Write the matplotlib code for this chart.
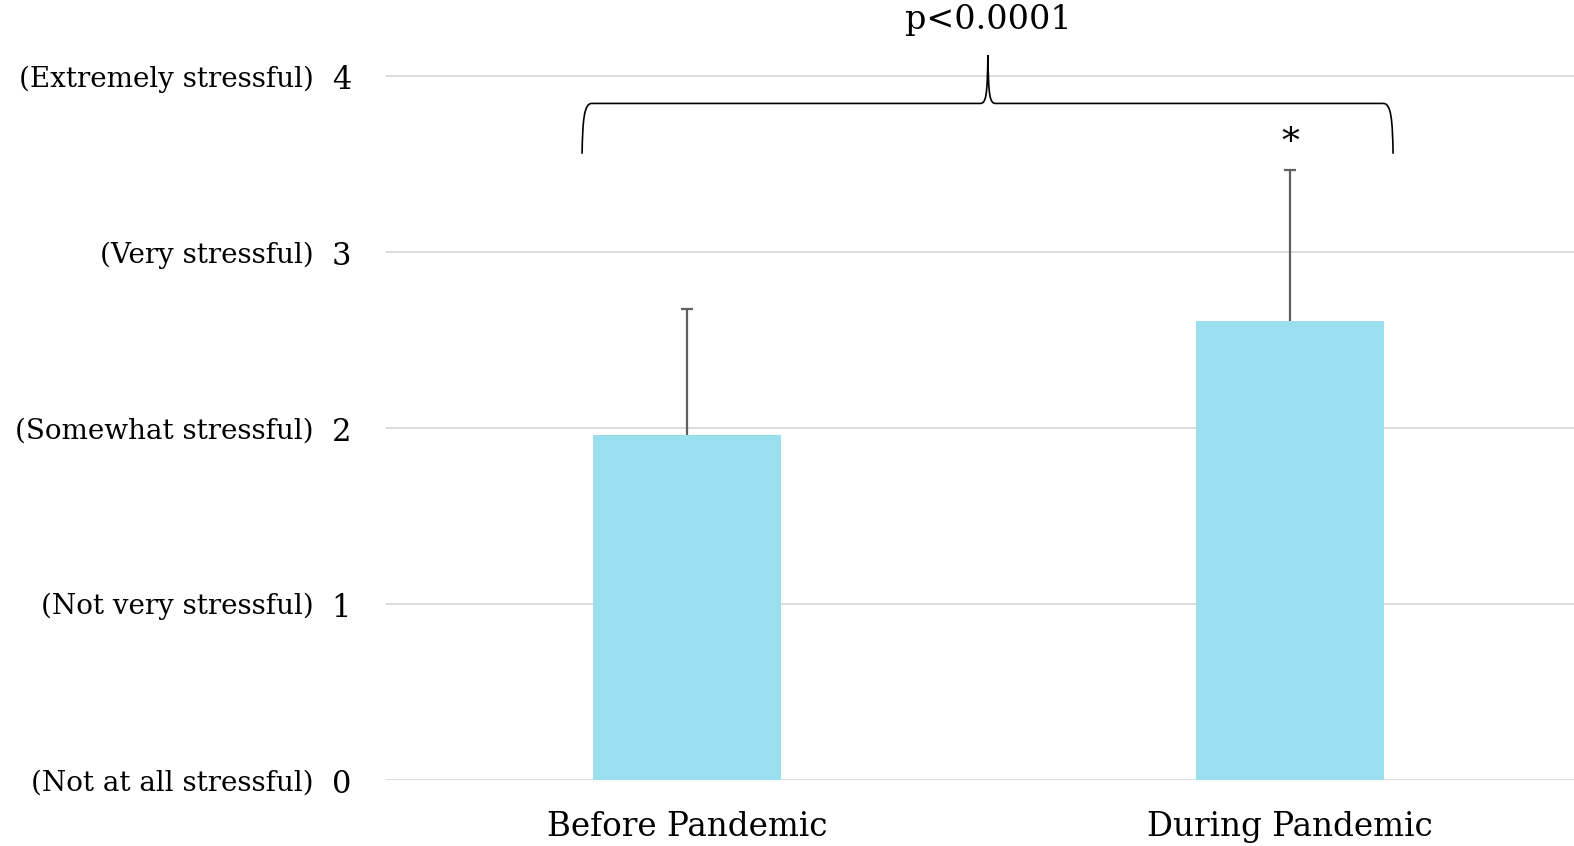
import matplotlib
matplotlib.use("Agg")
import matplotlib.pyplot as plt
from matplotlib.path import Path
from matplotlib.patches import PathPatch

# Data
categories = ["Before Pandemic", "During Pandemic"]
means = [1.96, 2.61]
sd_upper = [0.72, 0.86]
levels = [0, 1, 2, 3, 4]
level_names = ["(Not at all stressful)", "(Not very stressful)", "(Somewhat stressful)",
               "(Very stressful)", "(Extremely stressful)"]
p_label = "p<0.0001"
star_label = "*"

serif = ["DejaVu Serif"]

W, H = 1574, 846
fig = plt.figure(figsize=(W / 100, H / 100), dpi=100)
ax = fig.add_axes([385.5 / W, 66 / H, (W - 385.5) / W, 780 / H])
ax.set_xlim(-0.5, 1.471)
ax.set_ylim(0, 4.434)

x = list(range(len(categories)))
ax.bar(x, means, width=0.313, color="#99dfee", zorder=2)

# Upper-only error bars with a cap at the top
tops = [m + e for m, e in zip(means, sd_upper)]
ax.vlines(x, means, tops, colors="#5f5f5f", lw=1.6, zorder=3)
ax.plot(x, tops, linestyle="none", marker="_", markersize=9, mew=1.6,
        color="#5f5f5f", zorder=3)

# Horizontal gridlines
for lv in levels:
    ax.axhline(lv, color="#d9d9d9", lw=1.3, zorder=1)

for s in ax.spines.values():
    s.set_visible(False)
ax.set_yticks([])
ax.set_xticks([])
ax.tick_params(length=0)

# Y labels: descriptive text plus level number
for lv, name in zip(levels, level_names):
    ax.text(-0.619, lv - 0.015, name, ha="right", va="center", fontsize=20,
            family=serif, clip_on=False)
    ax.text(-0.573, lv - 0.025, str(lv), ha="center", va="center", fontsize=22,
            family=serif, clip_on=False)

# X category labels
for xi, cat in zip(x, categories):
    ax.text(xi, -0.27, cat, ha="center", va="center", fontsize=23.5, family=serif,
            clip_on=False)

# Curly brace spanning both groups
xl, xr, xm = -0.174, 1.171, 0.499
y_end, y_bar, y_tip = 3.56, 3.846, 4.12
verts = [
    (xl, y_end), (xl + 0.001, y_bar - 0.1), (xl + 0.003, y_bar), (xl + 0.016, y_bar),
    (xm - 0.013, y_bar),
    (xm - 0.003, y_bar), (xm - 0.001, y_bar + 0.04), (xm, y_tip),
    (xm + 0.001, y_bar + 0.04), (xm + 0.003, y_bar), (xm + 0.013, y_bar),
    (xr - 0.016, y_bar),
    (xr - 0.003, y_bar), (xr - 0.001, y_bar - 0.1), (xr, y_end),
]
codes = [Path.MOVETO, Path.CURVE4, Path.CURVE4, Path.CURVE4,
         Path.LINETO,
         Path.CURVE4, Path.CURVE4, Path.CURVE4,
         Path.CURVE4, Path.CURVE4, Path.CURVE4,
         Path.LINETO,
         Path.CURVE4, Path.CURVE4, Path.CURVE4]
ax.add_patch(PathPatch(Path(verts, codes), fill=False, edgecolor="black", lw=1.2,
                       clip_on=False, zorder=4))

ax.text(xm, 4.32, p_label, ha="center", va="center", fontsize=24, family=serif,
        clip_on=False)
ax.text(1, 3.62, star_label, ha="center", va="center", fontsize=26, family=serif,
        clip_on=False)

fig.savefig("out.png", dpi=100)
